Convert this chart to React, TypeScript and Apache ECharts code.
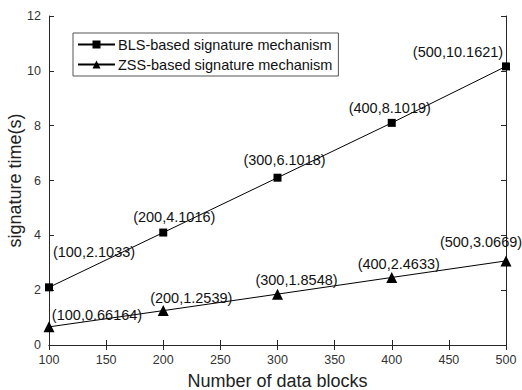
import React, { useEffect, useRef } from "react";
import * as echarts from "echarts";

const xValues = [100, 200, 300, 400, 500];
const blsValues = [2.1033, 4.1016, 6.1018, 8.1019, 10.1621];
const zssValues = [0.66164, 1.2539, 1.8548, 2.4633, 3.0669];
const blsLabelOffsets = [[45, -35], [11, -16], [7, -18], [-2, -15], [-48, -14]];
const zssLabelOffsets = [[48, -12], [28, -13], [19, -14], [7, -13], [-25, -19]];
const seriesNames = ["BLS-based signature mechanism", "ZSS-based signature mechanism"];

const FONT = "Liberation Sans, Arial, sans-serif";

export default function App() {
  const ref = useRef<HTMLDivElement>(null);
  useEffect(() => {
    if (!ref.current) return;
    const chart = echarts.init(ref.current, null, { renderer: "svg" });
    const mk = (vals: number[], offs: number[][]) =>
      vals.map((v, i) => ({
        value: [xValues[i], v],
        label: { offset: offs[i] },
      }));
    const axisLine = { show: true, lineStyle: { color: "#262626", width: 1 } };
    const tick = { show: true, inside: true, length: 5, lineStyle: { color: "#262626" } };
    chart.setOption({
      animation: false,
      backgroundColor: "#fff",
      textStyle: { fontFamily: FONT },
      grid: { left: 49, right: 16, top: 16, bottom: 45, containLabel: false, outerBoundsMode: "none" },
      legend: {
        orient: "vertical",
        left: 73,
        top: 33,
        padding: [4, 6, 4, 4],
        itemGap: 5,
        itemWidth: 37,
        itemHeight: 10,
        borderColor: "#555",
        borderWidth: 1,
        backgroundColor: "#fff",
        textStyle: { fontFamily: FONT, fontSize: 14.5, color: "#111", padding: [0, 0, 0, -2] },
        data: seriesNames,
      },
      xAxis: [
        {
          type: "value",
          min: 100,
          max: 500,
          interval: 50,
          name: "Number of data blocks",
          nameLocation: "middle",
          nameGap: 27,
          nameMoveOverlap: false,
          nameTextStyle: { fontFamily: FONT, fontSize: 18, color: "#222" },
          axisLine,
          axisTick: tick,
          axisLabel: { fontFamily: FONT, fontSize: 12.5, color: "#333", margin: 8 },
          splitLine: { show: false },
        },
        {
          type: "value",
          position: "top",
          min: 100,
          max: 500,
          interval: 50,
          axisLine,
          axisTick: tick,
          axisLabel: { show: false },
          splitLine: { show: false },
        },
      ],
      yAxis: [
        {
          type: "value",
          min: 0,
          max: 12,
          interval: 2,
          name: "signature time(s)",
          nameLocation: "middle",
          nameGap: 25,
          nameMoveOverlap: false,
          nameTextStyle: { fontFamily: FONT, fontSize: 18, color: "#222" },
          axisLine,
          axisTick: tick,
          axisLabel: { fontFamily: FONT, fontSize: 12.5, color: "#333", margin: 8 },
          splitLine: { show: false },
        },
        {
          type: "value",
          position: "right",
          min: 0,
          max: 12,
          interval: 2,
          axisLine,
          axisTick: tick,
          axisLabel: { show: false },
          splitLine: { show: false },
        },
      ],
      series: [
        {
          name: seriesNames[0],
          type: "line",
          data: mk(blsValues, blsLabelOffsets),
          symbol: "rect",
          symbolSize: 8,
          itemStyle: { color: "#000" },
          lineStyle: { color: "#000", width: 1 },
          label: {
            show: true,
            position: "inside",
            align: "center",
            verticalAlign: "middle",
            fontFamily: FONT,
            fontSize: 14.5,
            color: "#111",
            formatter: (p: any) => `(${p.value[0]},${p.value[1]})`,
          },
        },
        {
          name: seriesNames[1],
          type: "line",
          data: mk(zssValues, zssLabelOffsets),
          symbol: "triangle",
          symbolSize: 11,
          itemStyle: { color: "#000" },
          lineStyle: { color: "#000", width: 1 },
          label: {
            show: true,
            position: "inside",
            align: "center",
            verticalAlign: "middle",
            fontFamily: FONT,
            fontSize: 14.5,
            color: "#111",
            formatter: (p: any) => `(${p.value[0]},${p.value[1]})`,
          },
        },
      ],
    });
    return () => chart.dispose();
  }, []);
  return <div ref={ref} style={{ width: 522, height: 390, position: "absolute", left: 0, top: 0 }} />;
}
